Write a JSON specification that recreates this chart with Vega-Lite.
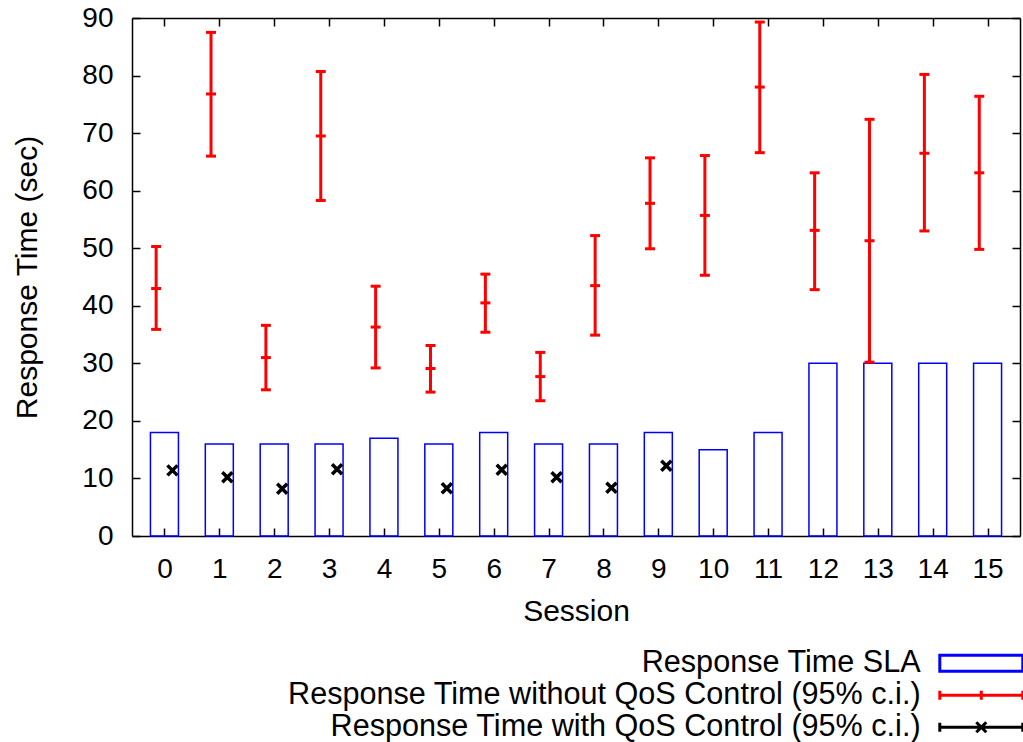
{
  "$schema": "https://vega.github.io/schema/vega-lite/v6.json",
  "autosize": "none",
  "width": 888,
  "height": 518,
  "padding": {"left": 132, "top": 18, "right": 3, "bottom": 206},
  "background": "white",
  "config": {
    "font": "Liberation Sans",
    "view": {"stroke": null},
    "axis": {
      "grid": false,
      "domainColor": "black",
      "domainWidth": 1.5,
      "tickColor": "black",
      "tickWidth": 1.5,
      "tickSize": -8,
      "labelFont": "Liberation Sans",
      "labelFontSize": 28,
      "labelColor": "black",
      "titleFont": "Liberation Sans",
      "titleFontSize": 30,
      "titleFontWeight": "normal",
      "titleColor": "black"
    },
    "legend": {
      "orient": "none",
      "legendX": 834,
      "legendY": 630,
      "title": null,
      "padding": 0,
      "labelFont": "Liberation Sans",
      "labelFontSize": 30.6,
      "labelColor": "black",
      "labelAlign": "right",
      "labelOffset": -76,
      "labelLimit": 1000,
      "rowPadding": 1,
      "symbolSize": 100,
      "symbolStrokeWidth": 3,
      "symbolFillColor": "transparent",
      "symbolOpacity": 1
    }
  },
  "data": {
    "values": [
      {"session": 0, "sla": 18, "lo": 35.9, "mean": 43.0, "hi": 50.3, "qos": 11.4},
      {"session": 1, "sla": 16, "lo": 66.0, "mean": 76.8, "hi": 87.5, "qos": 10.2},
      {"session": 2, "sla": 16, "lo": 25.4, "mean": 31.0, "hi": 36.6, "qos": 8.2},
      {"session": 3, "sla": 16, "lo": 58.3, "mean": 69.5, "hi": 80.7, "qos": 11.6},
      {"session": 4, "sla": 17, "lo": 29.2, "mean": 36.3, "hi": 43.4, "qos": null},
      {"session": 5, "sla": 16, "lo": 25.0, "mean": 29.1, "hi": 33.1, "qos": 8.3},
      {"session": 6, "sla": 18, "lo": 35.4, "mean": 40.5, "hi": 45.5, "qos": 11.5},
      {"session": 7, "sla": 16, "lo": 23.5, "mean": 27.7, "hi": 31.9, "qos": 10.2},
      {"session": 8, "sla": 16, "lo": 34.9, "mean": 43.5, "hi": 52.2, "qos": 8.4},
      {"session": 9, "sla": 18, "lo": 49.9, "mean": 57.8, "hi": 65.7, "qos": 12.2},
      {"session": 10, "sla": 15, "lo": 45.3, "mean": 55.7, "hi": 66.1, "qos": null},
      {"session": 11, "sla": 18, "lo": 66.6, "mean": 78.0, "hi": 89.3, "qos": null},
      {"session": 12, "sla": 30, "lo": 42.8, "mean": 53.1, "hi": 63.1, "qos": null},
      {"session": 13, "sla": 30, "lo": 30.2, "mean": 51.3, "hi": 72.4, "qos": null},
      {"session": 14, "sla": 30, "lo": 53.0, "mean": 66.5, "hi": 80.2, "qos": null},
      {"session": 15, "sla": 30, "lo": 49.8, "mean": 63.1, "hi": 76.4, "qos": null}
    ]
  },
  "resolve": {"axis": {"x": "independent", "y": "independent"}},
  "layer": [
    {
      "mark": {"type": "bar", "filled": false, "width": 28, "strokeWidth": 1.5, "color": "#0000ff"},
      "encoding": {
        "x": {
          "field": "session", "type": "quantitative",
          "scale": {"domain": [-0.5, 15.5], "nice": false, "zero": false},
          "axis": {"orient": "bottom", "values": [0,1,2,3,4,5,6,7,8,9,10,11,12,13,14,15], "title": "Session", "labelPadding": 27, "titlePadding": 13, "labelFlush": false}
        },
        "y": {
          "field": "sla", "type": "quantitative",
          "scale": {"domain": [0, 90], "nice": false},
          "axis": {"orient": "left", "values": [0,10,20,30,40,50,60,70,80,90], "title": "Response Time (sec)", "labelPadding": 27, "titlePadding": 39, "labelFlush": false}
        }
      }
    },
    {
      "mark": {"type": "rule", "strokeWidth": 3, "xOffset": -8.3, "color": "#ff0000"},
      "encoding": {
        "x": {"field": "session", "type": "quantitative", "axis": null},
        "y": {"field": "lo", "type": "quantitative", "axis": null},
        "y2": {"field": "hi"}
      }
    },
    {
      "mark": {"type": "tick", "orient": "horizontal", "size": 10, "thickness": 3, "xOffset": -8.3, "color": "#ff0000", "opacity": 1},
      "encoding": {
        "x": {"field": "session", "type": "quantitative", "axis": null},
        "y": {"field": "lo", "type": "quantitative", "axis": null}
      }
    },
    {
      "mark": {"type": "tick", "orient": "horizontal", "size": 10, "thickness": 3, "xOffset": -8.3, "color": "#ff0000", "opacity": 1},
      "encoding": {
        "x": {"field": "session", "type": "quantitative", "axis": null},
        "y": {"field": "mean", "type": "quantitative", "axis": null}
      }
    },
    {
      "mark": {"type": "tick", "orient": "horizontal", "size": 10, "thickness": 3, "xOffset": -8.3, "color": "#ff0000", "opacity": 1},
      "encoding": {
        "x": {"field": "session", "type": "quantitative", "axis": null},
        "y": {"field": "hi", "type": "quantitative", "axis": null}
      }
    },
    {
      "transform": [{"filter": "isValid(datum.qos)"}],
      "mark": {"type": "point", "filled": false, "shape": "M-1,-1L1,1M1,-1L-1,1", "size": 100, "strokeWidth": 3.5, "opacity": 1, "xOffset": 8, "color": "#000000"},
      "encoding": {
        "x": {"field": "session", "type": "quantitative", "axis": null},
        "y": {"field": "qos", "type": "quantitative", "axis": null}
      }
    },
    {
      "transform": [{"filter": "false"}],
      "mark": {"type": "point", "filled": false, "strokeWidth": 3, "size": 100, "opacity": 1},
      "encoding": {
        "x": {"field": "session", "type": "quantitative", "axis": null},
        "y": {"field": "sla", "type": "quantitative", "axis": null},
        "color": {
          "datum": "Response Time SLA",
          "type": "nominal",
          "scale": {
            "domain": ["Response Time SLA", "Response Time without QoS Control (95% c.i.)", "Response Time with QoS Control (95% c.i.)"],
            "range": ["#0000ff", "#ff0000", "#000000"]
          }
        },
        "shape": {
          "datum": "Response Time SLA",
          "type": "nominal",
          "scale": {
            "domain": ["Response Time SLA", "Response Time without QoS Control (95% c.i.)", "Response Time with QoS Control (95% c.i.)"],
            "range": ["M-8.3,-1.6H8.3V1.6H-8.3Z", "M-8.3,0H8.3M-8.3,-0.9V0.9M0,-0.9V0.9M8.3,-0.9V0.9", "M-8.3,0H8.3M-8.3,-0.9V0.9M8.3,-0.9V0.9M-1,-1L1,1M1,-1L-1,1"]
          }
        }
      }
    },
    {
      "mark": {"type": "rule", "opacity": 0},
      "encoding": {
        "x": {"field": "session", "type": "quantitative", "axis": {"orient": "top", "values": [0,1,2,3,4,5,6,7,8,9,10,11,12,13,14,15], "labels": false, "title": null}},
        "y": {"field": "sla", "type": "quantitative", "axis": {"orient": "right", "values": [0,10,20,30,40,50,60,70,80,90], "labels": false, "title": null}}
      }
    }
  ]
}
